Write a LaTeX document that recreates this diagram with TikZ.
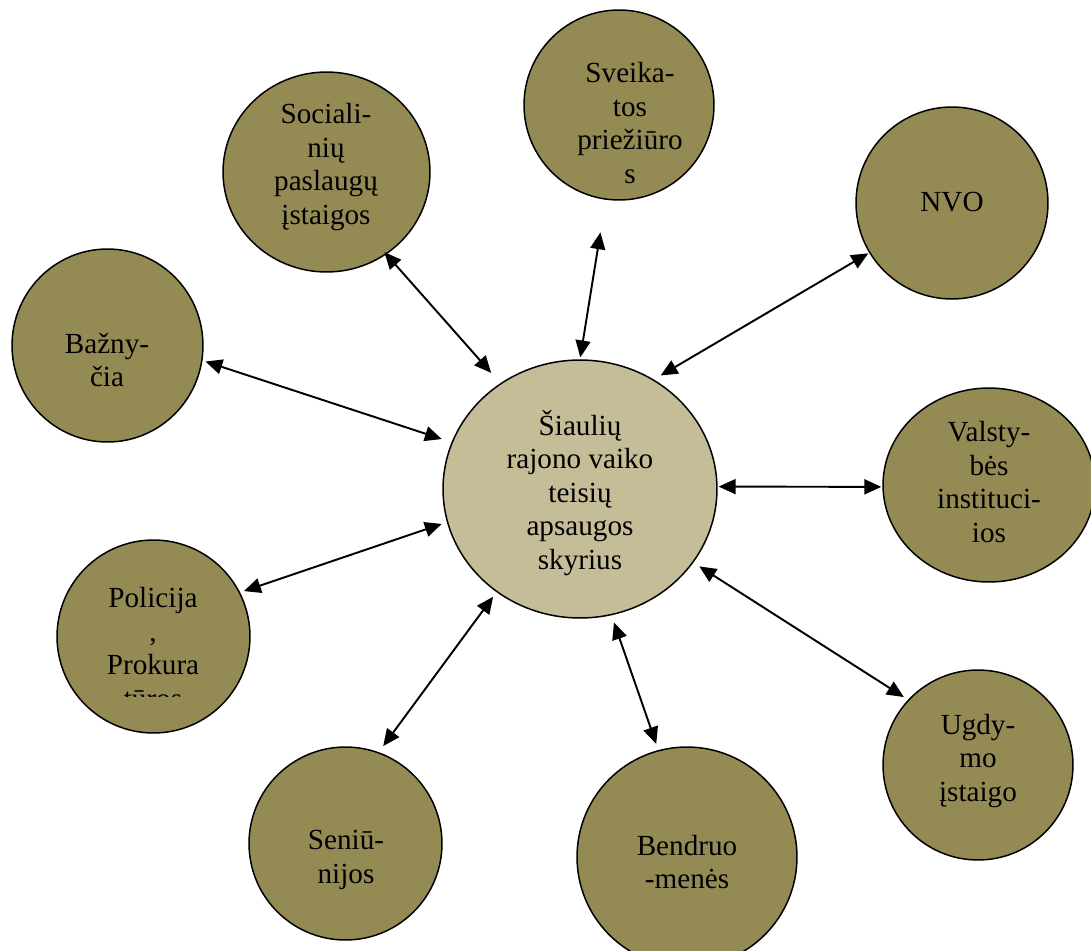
\documentclass[tikz,border=0pt]{standalone}
\usepackage{fontspec}
\setmainfont{Liberation Serif}
\usetikzlibrary{arrows.meta,shapes.geometric}
\definecolor{bubfill}{HTML}{948A54}
\definecolor{mainfill}{HTML}{C4BD97}
\tikzset{
  bub/.style={ellipse, draw=black, line width=0.85pt, fill=bubfill, inner sep=0pt},
  txt/.style={align=center, inner sep=0pt, font=\fontsize{16.6pt}{19.1pt}\selectfont},
  arr/.style={{Triangle[length=9.6pt,width=8.5pt]}-{Triangle[length=9.6pt,width=8.5pt]}, line width=1.1pt, draw=black}
}
\begin{document}
\begin{tikzpicture}[x=0.02cm,y=-0.02cm]
\useasboundingbox (0,0) rectangle (1091,950);
\fill[white] (0,0) rectangle (1091,950);
% bubbles
\node[bub, fill=mainfill, minimum width=5.48cm, minimum height=5.16cm] (main) at (580,489) {};
\node[bub, minimum width=4.14cm, minimum height=4.0cm] (soc) at (326.5,172) {};
\node[bub, minimum width=3.8cm, minimum height=3.8cm] (sve) at (619,105) {};
\node[bub, minimum width=3.84cm, minimum height=3.84cm] (nvo) at (952,203) {};
\node[bub, minimum width=3.82cm, minimum height=3.86cm] (baz) at (107.5,345.5) {};
\node[bub, minimum width=4.24cm, minimum height=3.88cm] (val) at (989,485) {};
\node[bub, minimum width=3.86cm, minimum height=3.86cm] (pol) at (153.5,636.5) {};
\node[bub, minimum width=3.8cm, minimum height=3.8cm] (ugd) at (978,765) {};
\node[bub, minimum width=4.4cm, minimum height=4.4cm] (ben) at (687,857) {};
\node[bub, minimum width=3.86cm, minimum height=3.86cm] (sen) at (345.5,843.5) {};
% texts
\node[txt] (main-t) at (580,493) {Šiaulių\\rajono vaiko\\teisių\\apsaugos\\skyrius};
\node[txt] (soc-t) at (326,167) {Sociali-\\nių\\paslaugų\\įstaigos};
\node[txt] (sve-t) at (630,123) {Sveika-\\tos\\priežiūro\\s};
\node[txt] (nvo-t) at (952,202) {NVO};
\node[txt] (baz-t) at (107,360) {Bažny-\\čia};
\node[txt] (val-t) at (989,482) {Valsty-\\bės\\instituci-\\ios};
\node[txt] (ugd-t) at (978,761) {Ugdy-\\mo\\įstaigo};
\node[txt] (ben-t) at (687,862) {Bendruo\\-menės};
\node[txt] (sen-t) at (346,860) {Seniū-\\nijos};
\begin{scope}
  \clip (50,530) rectangle (260,696);
  \node[txt] (pol-t) at (153,648) {Policija\\,\\Prokura\\tūros};
\end{scope}
% connectors
\draw[arr, shorten <=0.276cm, shorten >=-0.06cm] (main.127.2) -- (soc.-54.1);
\draw[arr, shorten <=0.04cm, shorten >=0.66cm] (main.90.9) -- (sve.-98.1);
\draw[arr, shorten <=0.158cm, shorten >=0.02cm] (main.56.4) -- (nvo.-149.7);
\draw[arr, shorten <=0.206cm, shorten >=0.06cm] (main.160.4) -- (baz.-9.3);
\draw[arr, shorten <=0.02cm, shorten >=0.02cm] (main.1.7) -- (val.181);
\draw[arr, shorten <=0.108cm, shorten >=0.08cm] (main.-166.6) -- (pol.27.8);
\draw[arr, shorten <=0.14cm, shorten >=0.1cm] (main.-33.5) -- (ugd.137);
\draw[arr, shorten <=0.152cm, shorten >=0.13cm] (main.-76.1) -- (ben.105.9);
\draw[arr, shorten <=0.114cm, shorten >=0.15cm] (main.-129.7) -- (sen.70.3);
\end{tikzpicture}
\end{document}
